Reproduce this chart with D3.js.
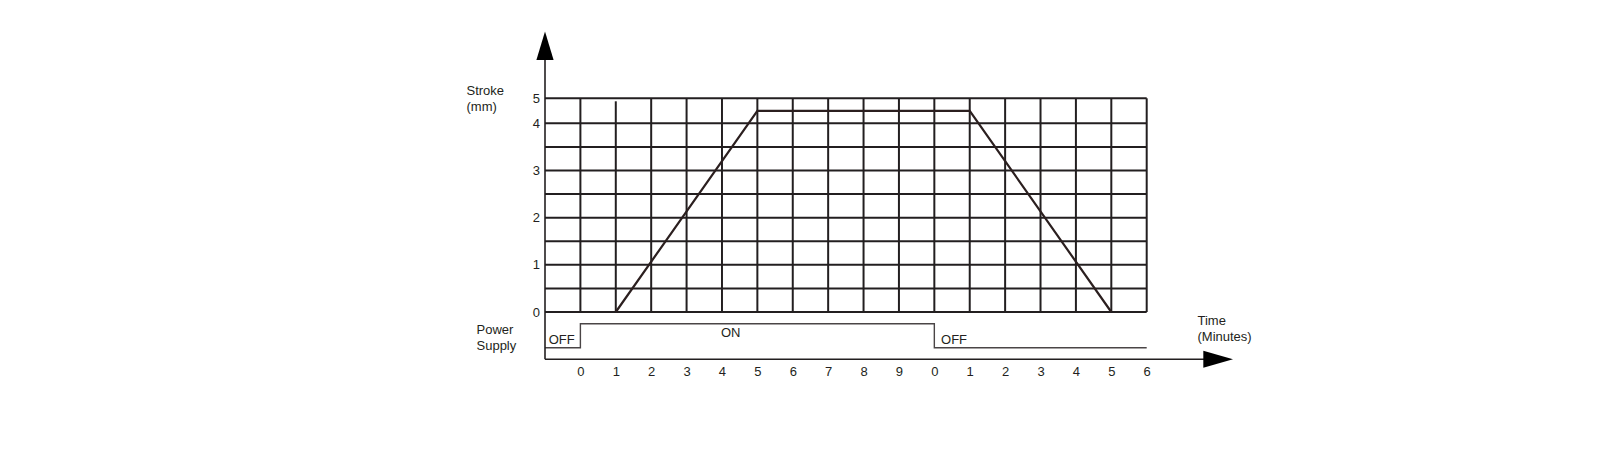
<!DOCTYPE html>
<html>
<head>
<meta charset="utf-8">
<script src="https://cdn.jsdelivr.net/npm/d3@7"></script>
<style>
  html, body { margin: 0; padding: 0; background: #fff; }
  svg text { font-family: "Liberation Sans", Arial, Helvetica, sans-serif; font-size: 13px; fill: #231f20; }
</style>
</head>
<body>
<svg id="chart" width="1616" height="450"></svg>
<script>
// time tick labels, one per grid column (minutes, counter restarts at power off)
var timeLabels = ["0", "1", "2", "3", "4", "5", "6", "7", "8", "9", "0", "1", "2", "3", "4", "5", "6"];
// stroke axis
var strokeTicks = [0, 1, 2, 3, 4, 5];
var strokeRows = [0, 0.5, 1, 1.5, 2, 2.5, 3, 3.5, 4, 5];
// stroke curve (column index, mm)
var strokeCols = [1, 5, 11, 15];
var strokeMm = [0, 4.5, 4.5, 0];
// power supply trace
var powerCols = [-1, 0, 0, 10, 10, 16];
var powerState = ["OFF", "OFF", "ON", "ON", "OFF", "OFF"];
var powerLabels = [{ col: -1, text: "OFF" }, { col: 4, text: "ON" }, { col: 10, text: "OFF" }];

var ink = "#231f20";
var svg = d3.select("#chart");

var x = d3.scaleLinear().domain([-1, 16]).range([545, 1146.7]);
// the drawing squeezes the 4..5 band
var y = d3.scaleLinear().domain([0, 4, 5]).range([312, 123.3, 98.3]);
var yPower = d3.scaleOrdinal().domain(["OFF", "ON"]).range([347.7, 323.7]);

var cols = d3.range(timeLabels.length);

// grid
var grid = svg.append("g").attr("class", "grid");
grid.selectAll(".row")
    .data(strokeRows)
    .enter().append("line")
    .attr("class", "row")
    .attr("x1", x(-1)).attr("x2", x(16))
    .attr("y1", function (d) { return y(d); })
    .attr("y2", function (d) { return y(d); })
    .attr("stroke", ink).attr("stroke-width", 2);

grid.selectAll(".col")
    .data(cols)
    .enter().append("line")
    .attr("class", "col")
    .attr("x1", function (d) { return x(d); })
    .attr("x2", function (d) { return x(d); })
    .attr("y1", function (d) { return d == 1 ? y(5) + 3 : y(5); })
    .attr("y2", y(0))
    .attr("stroke", ink).attr("stroke-width", 2);

// stroke curve
var strokePts = strokeCols.map(function (c, i) { return [c, strokeMm[i]]; });
svg.append("path")
    .datum(strokePts)
    .attr("fill", "none")
    .attr("stroke", "#2b1f1f")
    .attr("stroke-width", 2.2)
    .attr("stroke-linejoin", "miter")
    .attr("d", d3.line()
        .x(function (d) { return x(d[0]); })
        .y(function (d) { return y(d[1]); }));

// power supply trace
var powerPts = powerCols.map(function (c, i) { return [c, powerState[i]]; });
svg.append("path")
    .datum(powerPts)
    .attr("fill", "none")
    .attr("stroke", "#4a4546")
    .attr("stroke-width", 1.4)
    .attr("d", d3.line()
        .x(function (d) { return x(d[0]); })
        .y(function (d) { return yPower(d[1]); }));

svg.selectAll(".plabel")
    .data(powerLabels)
    .enter().append("text")
    .attr("class", "plabel")
    .attr("x", function (d, i) { return x(d.col) + [3.7, -1, 6.7][i]; })
    .attr("y", function (d) { return d.text == "ON" ? 336.7 : 344; })
    .text(function (d) { return d.text; });

// axes lines + arrow heads
svg.append("line")
    .attr("x1", x(-1)).attr("x2", x(-1))
    .attr("y1", 58).attr("y2", 359.3)
    .attr("stroke", ink).attr("stroke-width", 1.6);
svg.append("line")
    .attr("x1", x(-1)).attr("x2", 1205)
    .attr("y1", 359.3).attr("y2", 359.3)
    .attr("stroke", ink).attr("stroke-width", 1.6);

svg.append("path")
    .attr("d", "M" + x(-1) + ",31.5L" + (x(-1) + 8.6) + ",60L" + (x(-1) - 8.6) + ",60Z")
    .attr("fill", "#000");
svg.append("path")
    .attr("d", "M1233,359.3L1203.3,350.8L1203.3,367.8Z")
    .attr("fill", "#000");

// tick labels
var xAxis = svg.append("g")
    .attr("transform", "translate(0,359.3)")
    .call(d3.axisBottom(x)
        .tickValues(cols)
        .tickSize(0)
        .tickPadding(7)
        .tickFormat(function (d) { return timeLabels[d]; }));
xAxis.select(".domain").remove();
xAxis.selectAll("text").attr("font-family", null).attr("font-size", null).attr("fill", null);

var yAxis = svg.append("g")
    .attr("transform", "translate(" + x(-1) + ",0)")
    .call(d3.axisLeft(y)
        .tickValues(strokeTicks)
        .tickSize(0)
        .tickPadding(5)
        .tickFormat(d3.format("d")));
yAxis.select(".domain").remove();
yAxis.selectAll("text").attr("font-family", null).attr("font-size", null).attr("fill", null);

// titles
function twoLines(x0, y0, lines) {
    var t = svg.append("text").attr("x", x0).attr("y", y0);
    lines.forEach(function (s, i) {
        t.append("tspan").attr("x", x0).attr("dy", i ? 16 : 0).text(s);
    });
}
twoLines(466.5, 95, ["Stroke", "(mm)"]);
twoLines(476.5, 333.5, ["Power", "Supply"]);
twoLines(1197.5, 325, ["Time", "(Minutes)"]);
</script>
</body>
</html>
